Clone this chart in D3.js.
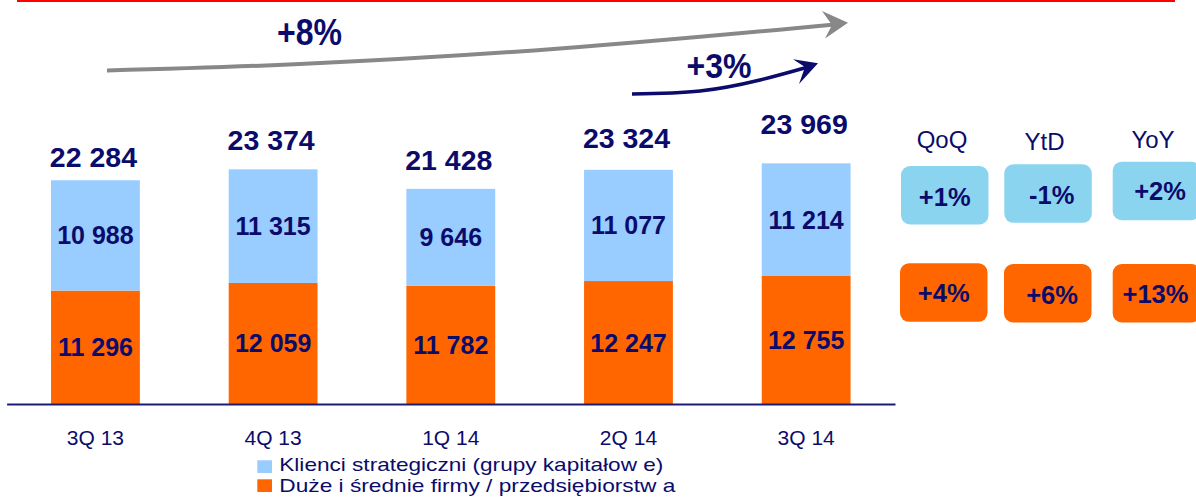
<!DOCTYPE html>
<html>
<head>
<meta charset="utf-8">
<script src="https://cdn.jsdelivr.net/npm/d3@7"></script>
<style>
  html, body { margin: 0; padding: 0; background: #ffffff; }
  svg { display: block; font-family: Arial, "Liberation Sans", sans-serif; }
</style>
</head>
<body>
<svg id="chart" width="1196" height="498"></svg>
<script>
// ---- data ----
const categories = ["3Q 13", "4Q 13", "1Q 14", "2Q 14", "3Q 14"];
const strategicClients = [10988, 11315, 9646, 11077, 11214];
const midLargeCompanies = [11296, 12059, 11782, 12247, 12755];
const totals = [22284, 23374, 21428, 23324, 23969];
const seriesNames = ["Klienci strategiczni (grupy kapitałow e)", "Duże i średnie firmy / przedsiębiorstw a"];
const changeHeaders = ["QoQ", "YtD", "YoY"];
const changeStrategic = ["+1%", "-1%", "+2%"];
const changeMidLarge = ["+4%", "+6%", "+13%"];
const growthLabels = ["+8%", "+3%"];

// ---- layout / style ----
const navy = "#0b0b6b";
const blue = "#99ccff";
const orange = "#ff6600";
const boxBlue = "#8bd4ef";
const totalLift = [13, 19, 19, 22, 29];

const svg = d3.select("#chart");
const fmt = v => d3.format(",")(v).replace(/,/g, " ");

const x = d3.scaleBand().domain(categories).range([6.6, 895]).paddingInner(0.5).paddingOuter(0.25);
const y = d3.scaleLinear().domain([0, 25000]).range([404, 153]);

// red top line
svg.append("line").attr("x1", 17).attr("x2", 1175).attr("y1", 1).attr("y2", 1)
  .attr("stroke", "#ff0000").attr("stroke-width", 2);

// bars
const g = svg.append("g");
const rows = categories.map((c, i) => ({c, a: midLargeCompanies[i], b: strategicClients[i], t: totals[i], i}));

g.selectAll("rect.o").data(rows).join("rect").attr("class", "o")
  .attr("x", d => x(d.c)).attr("width", x.bandwidth())
  .attr("y", d => y(d.a)).attr("height", d => y(0) - y(d.a))
  .attr("fill", orange);
g.selectAll("rect.b").data(rows).join("rect").attr("class", "b")
  .attr("x", d => x(d.c)).attr("width", x.bandwidth())
  .attr("y", d => y(d.a + d.b)).attr("height", d => y(d.a) - y(d.a + d.b))
  .attr("fill", blue);

// inner labels
g.selectAll("text.lo").data(rows).join("text").attr("class", "lo")
  .attr("x", d => x(d.c) + x.bandwidth() / 2).attr("y", d => (y(d.a) + y(0)) / 2)
  .attr("dy", "0.36em").attr("text-anchor", "middle")
  .attr("font-size", 25).attr("font-weight", "bold").attr("fill", navy)
  .text(d => fmt(d.a));
g.selectAll("text.lb").data(rows).join("text").attr("class", "lb")
  .attr("x", d => x(d.c) + x.bandwidth() / 2).attr("y", d => (y(d.a + d.b) + y(d.a)) / 2)
  .attr("dy", "0.36em").attr("text-anchor", "middle")
  .attr("font-size", 25).attr("font-weight", "bold").attr("fill", navy)
  .text(d => fmt(d.b));
// totals
g.selectAll("text.lt").data(rows).join("text").attr("class", "lt")
  .attr("x", d => x(d.c) + x.bandwidth() / 2 - 2).attr("y", d => y(d.t) - totalLift[d.i])
  .attr("text-anchor", "middle")
  .attr("font-size", 28.5).attr("font-weight", "bold").attr("fill", navy)
  .text(d => fmt(d.t));

// x axis
const axis = svg.append("g").attr("transform", "translate(0,404)")
  .call(d3.axisBottom(x).tickSize(0).tickPadding(26));
axis.select(".domain").attr("stroke", "#1c1c78").attr("stroke-width", 2);
axis.selectAll("text").attr("font-size", 21).attr("fill", navy)
  .attr("font-family", "Arial, 'Liberation Sans', sans-serif");

// growth arrows
const curve = d3.line().curve(d3.curveNatural);
svg.append("path").attr("d", curve([[107, 70.5], [300, 64], [560, 48.5], [835, 24.5]]))
  .attr("fill", "none").attr("stroke", "#888888").attr("stroke-width", 4);
svg.append("path").attr("d", "M848,22.7 L822,11 L832,25 L825,38.5 Z").attr("fill", "#888888");
svg.append("path").attr("d", curve([[632, 94], [700, 91], [760, 80], [808, 67]]))
  .attr("fill", "none").attr("stroke", navy).attr("stroke-width", 3.5);
svg.append("path").attr("d", "M818,63.3 L793,59.3 L805,67 L799,84 Z").attr("fill", navy);

svg.append("text").attr("x", 277).attr("y", 45)
  .attr("font-size", 37).attr("font-weight", "bold").attr("fill", navy)
  .attr("textLength", 65).attr("lengthAdjust", "spacingAndGlyphs").text(growthLabels[0]);
svg.append("text").attr("x", 686.5).attr("y", 78)
  .attr("font-size", 35).attr("font-weight", "bold").attr("fill", navy)
  .attr("textLength", 65).attr("lengthAdjust", "spacingAndGlyphs").text(growthLabels[1]);

// change boxes
const headerPos = [{x: 942, y: 148}, {x: 1044.5, y: 150}, {x: 1153, y: 148}];
svg.selectAll("text.hdr").data(changeHeaders).join("text").attr("class", "hdr")
  .attr("x", (d, i) => headerPos[i].x).attr("y", (d, i) => headerPos[i].y)
  .attr("text-anchor", "middle").attr("font-size", 24).attr("fill", navy).text(d => d);

const boxesTop = [
  {x: 901, y: 166, tx: 944.7, ty: 206},
  {x: 1004.3, y: 164.3, tx: 1051.7, ty: 204},
  {x: 1112.7, y: 161.7, tx: 1160, ty: 200}
];
const boxesBottom = [
  {x: 900, y: 263.3, tx: 943.7, ty: 301.7},
  {x: 1004, y: 264, tx: 1052, ty: 304.3},
  {x: 1112.7, y: 264, tx: 1155.5, ty: 303}
];
function drawBoxes(vals, pos, fill, cls) {
  svg.selectAll("rect." + cls).data(vals).join("rect").attr("class", cls)
    .attr("x", (d, i) => pos[i].x).attr("y", (d, i) => pos[i].y)
    .attr("width", 87.5).attr("height", 58.5).attr("rx", 9).attr("ry", 9).attr("fill", fill);
  svg.selectAll("text." + cls).data(vals).join("text").attr("class", cls)
    .attr("x", (d, i) => pos[i].tx).attr("y", (d, i) => pos[i].ty)
    .attr("text-anchor", "middle").attr("font-size", 25.5).attr("font-weight", "bold")
    .attr("fill", navy).text(d => d);
}
drawBoxes(changeStrategic, boxesTop, boxBlue, "bt");
drawBoxes(changeMidLarge, boxesBottom, orange, "bb");

// legend
const legend = svg.append("g");
const legendColors = [blue, orange];
const legendLens = [384, 396];
seriesNames.forEach((name, i) => {
  legend.append("rect").attr("x", 257.3).attr("y", 460.3 + i * 19).attr("width", 14.7).attr("height", 12.7)
    .attr("fill", legendColors[i]);
  legend.append("text").attr("x", 279.3).attr("y", 471.3 + i * 20.2)
    .attr("font-size", 18.5).attr("fill", navy)
    .attr("textLength", legendLens[i]).attr("lengthAdjust", "spacingAndGlyphs")
    .text(name);
});
</script>
</body>
</html>
